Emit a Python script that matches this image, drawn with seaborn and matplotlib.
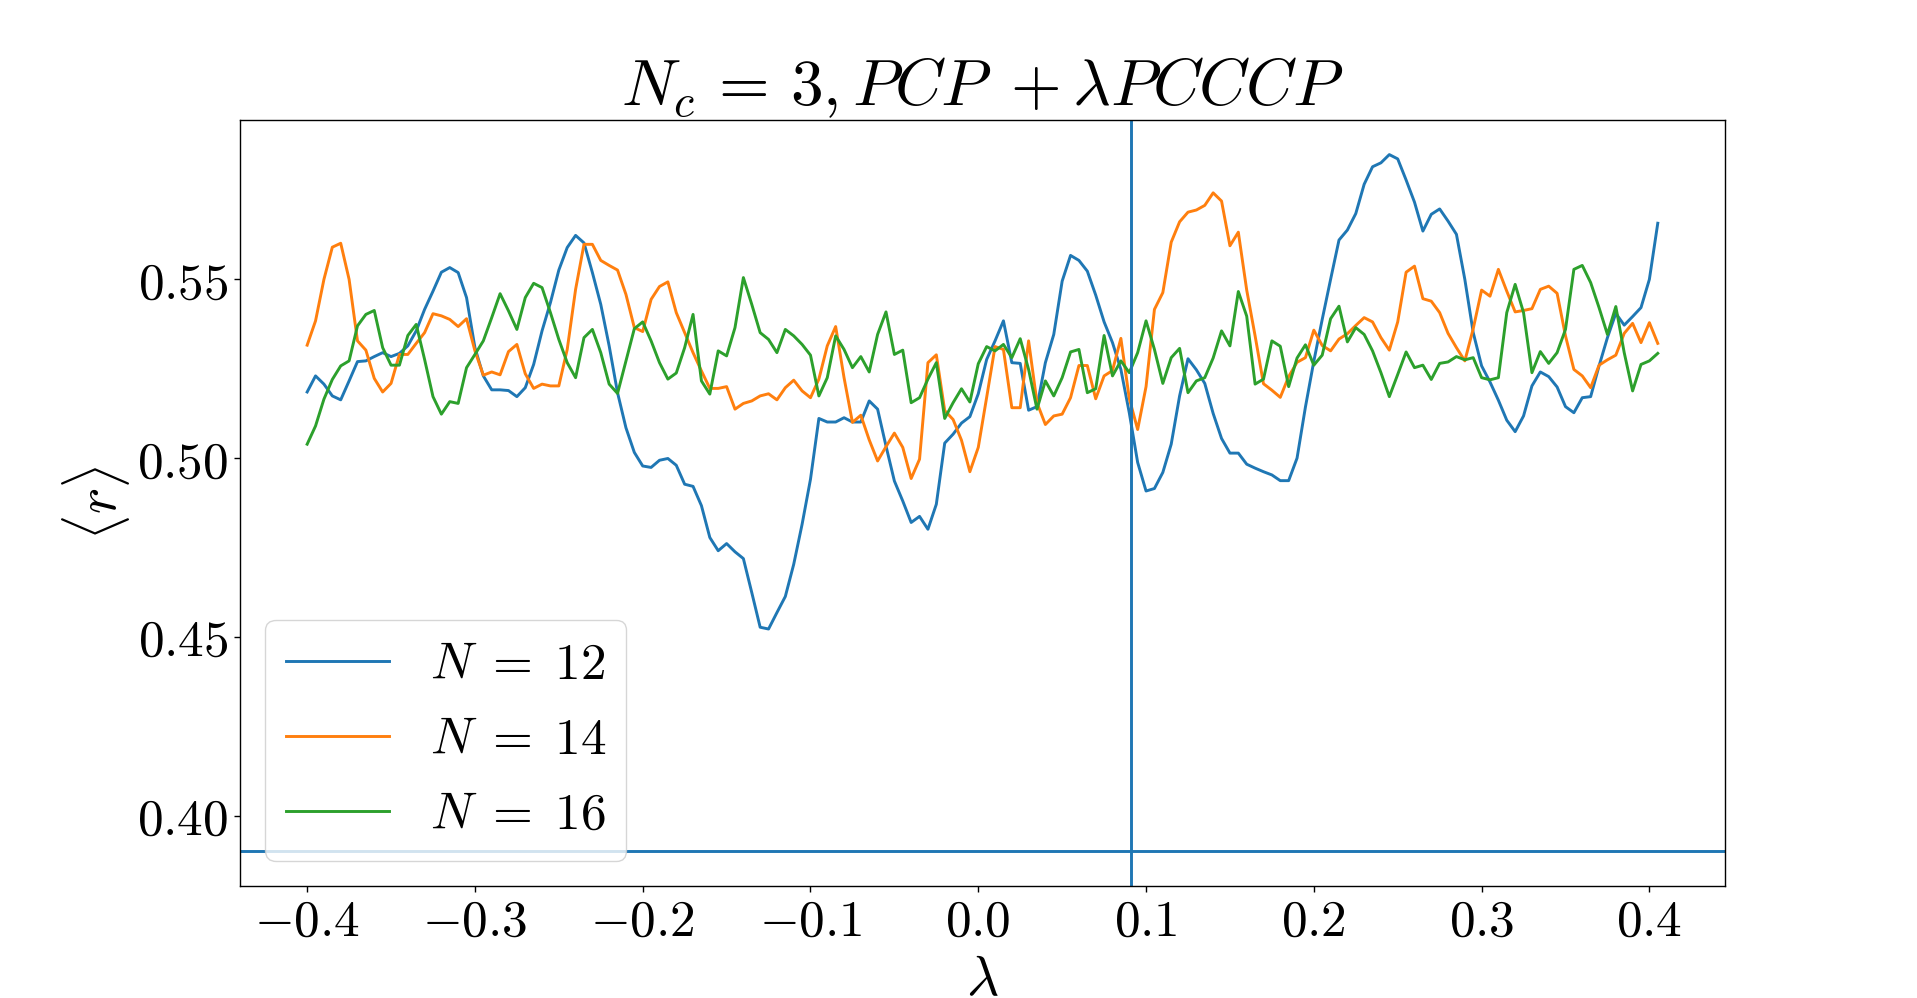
import numpy as np
import pandas as pd
import matplotlib
matplotlib.use("Agg")
import matplotlib.pyplot as plt
import seaborn as sns

# ---- data -------------------------------------------------------------
lam = np.round(np.linspace(-0.4, 0.405, 162), 3)

r_N12 = [
    0.5185, 0.5230, 0.5207, 0.5174, 0.5163, 0.5216, 0.5270, 0.5272, 0.5284, 0.5295,
    0.5284, 0.5293, 0.5314, 0.5356, 0.5416, 0.5467, 0.5520, 0.5533, 0.5519, 0.5449,
    0.5309, 0.5230, 0.5191, 0.5191, 0.5189, 0.5172, 0.5197, 0.5262, 0.5356, 0.5435,
    0.5526, 0.5589, 0.5623, 0.5602, 0.5519, 0.5430, 0.5314, 0.5183, 0.5085, 0.5016,
    0.4978, 0.4974, 0.4994, 0.4999, 0.4980, 0.4927, 0.4921, 0.4867, 0.4778, 0.4741,
    0.4761, 0.4738, 0.4719, 0.4624, 0.4527, 0.4522, 0.4568, 0.4613, 0.4703, 0.4815,
    0.4941, 0.5111, 0.5101, 0.5101, 0.5113, 0.5101, 0.5101, 0.5160, 0.5137, 0.5034,
    0.4936, 0.4880, 0.4820, 0.4837, 0.4801, 0.4871, 0.5042, 0.5067, 0.5098, 0.5116,
    0.5180, 0.5276, 0.5328, 0.5384, 0.5267, 0.5265, 0.5134, 0.5144, 0.5267, 0.5346,
    0.5495, 0.5567, 0.5553, 0.5523, 0.5456, 0.5381, 0.5323, 0.5248, 0.5127, 0.4988,
    0.4908, 0.4915, 0.4960, 0.5039, 0.5174, 0.5278, 0.5247, 0.5209, 0.5125, 0.5055,
    0.5014, 0.5014, 0.4983, 0.4972, 0.4962, 0.4953, 0.4937, 0.4937, 0.5000, 0.5143,
    0.5271, 0.5388, 0.5500, 0.5610, 0.5638, 0.5684, 0.5766, 0.5815, 0.5826, 0.5849,
    0.5837, 0.5778, 0.5716, 0.5635, 0.5682, 0.5697, 0.5663, 0.5626, 0.5500, 0.5351,
    0.5258, 0.5213, 0.5162, 0.5106, 0.5074, 0.5118, 0.5202, 0.5241, 0.5228, 0.5199,
    0.5144, 0.5127, 0.5169, 0.5172, 0.5258, 0.5337, 0.5405, 0.5372, 0.5396, 0.5421,
    0.5500, 0.5657,
]

r_N14 = [
    0.5316, 0.5384, 0.5500, 0.5590, 0.5601, 0.5500, 0.5328, 0.5302, 0.5223, 0.5185,
    0.5209, 0.5290, 0.5290, 0.5321, 0.5351, 0.5404, 0.5398, 0.5388, 0.5368, 0.5390,
    0.5300, 0.5232, 0.5241, 0.5233, 0.5298, 0.5318, 0.5236, 0.5195, 0.5207, 0.5202,
    0.5202, 0.5304, 0.5472, 0.5598, 0.5598, 0.5553, 0.5539, 0.5526, 0.5458, 0.5365,
    0.5354, 0.5444, 0.5480, 0.5493, 0.5407, 0.5351, 0.5295, 0.5244, 0.5195, 0.5195,
    0.5200, 0.5137, 0.5153, 0.5160, 0.5174, 0.5180, 0.5163, 0.5197, 0.5218, 0.5188,
    0.5169, 0.5221, 0.5314, 0.5368, 0.5225, 0.5100, 0.5120, 0.5051, 0.4992, 0.5032,
    0.5070, 0.5030, 0.4943, 0.4997, 0.5267, 0.5289, 0.5133, 0.5108, 0.5050, 0.4962,
    0.5030, 0.5170, 0.5312, 0.5304, 0.5141, 0.5141, 0.5328, 0.5155, 0.5094, 0.5118,
    0.5123, 0.5169, 0.5259, 0.5259, 0.5166, 0.5230, 0.5245, 0.5335, 0.5167, 0.5080,
    0.5200, 0.5416, 0.5463, 0.5604, 0.5661, 0.5688, 0.5694, 0.5707, 0.5742, 0.5719,
    0.5594, 0.5632, 0.5470, 0.5342, 0.5208, 0.5190, 0.5170, 0.5228, 0.5268, 0.5281,
    0.5358, 0.5315, 0.5300, 0.5333, 0.5348, 0.5371, 0.5393, 0.5381, 0.5337, 0.5302,
    0.5381, 0.5520, 0.5537, 0.5446, 0.5439, 0.5407, 0.5349, 0.5309, 0.5272, 0.5362,
    0.5470, 0.5453, 0.5528, 0.5467, 0.5409, 0.5413, 0.5418, 0.5472, 0.5481, 0.5461,
    0.5342, 0.5248, 0.5230, 0.5197, 0.5260, 0.5275, 0.5288, 0.5349, 0.5377, 0.5323,
    0.5379, 0.5321,
]

r_N16 = [
    0.5039, 0.5090, 0.5165, 0.5220, 0.5258, 0.5272, 0.5370, 0.5402, 0.5413, 0.5309,
    0.5260, 0.5260, 0.5343, 0.5374, 0.5276, 0.5172, 0.5123, 0.5158, 0.5153, 0.5253,
    0.5290, 0.5328, 0.5393, 0.5460, 0.5412, 0.5360, 0.5449, 0.5489, 0.5477, 0.5407,
    0.5332, 0.5267, 0.5225, 0.5337, 0.5360, 0.5295, 0.5207, 0.5181, 0.5272, 0.5362,
    0.5381, 0.5328, 0.5267, 0.5221, 0.5238, 0.5309, 0.5402, 0.5216, 0.5179, 0.5300,
    0.5286, 0.5365, 0.5505, 0.5430, 0.5351, 0.5332, 0.5295, 0.5360, 0.5342, 0.5318,
    0.5288, 0.5174, 0.5225, 0.5342, 0.5304, 0.5253, 0.5284, 0.5241, 0.5346, 0.5409,
    0.5290, 0.5302, 0.5155, 0.5169, 0.5221, 0.5267, 0.5111, 0.5155, 0.5194, 0.5157,
    0.5264, 0.5312, 0.5300, 0.5318, 0.5281, 0.5334, 0.5248, 0.5137, 0.5216, 0.5174,
    0.5225, 0.5297, 0.5304, 0.5183, 0.5194, 0.5343, 0.5230, 0.5272, 0.5239, 0.5295,
    0.5384, 0.5304, 0.5209, 0.5281, 0.5307, 0.5183, 0.5216, 0.5225, 0.5280, 0.5356,
    0.5314, 0.5466, 0.5397, 0.5207, 0.5221, 0.5328, 0.5313, 0.5200, 0.5280, 0.5317,
    0.5260, 0.5288, 0.5390, 0.5425, 0.5325, 0.5365, 0.5346, 0.5300, 0.5239, 0.5172,
    0.5234, 0.5297, 0.5253, 0.5260, 0.5220, 0.5265, 0.5269, 0.5284, 0.5275, 0.5281,
    0.5225, 0.5219, 0.5225, 0.5407, 0.5486, 0.5407, 0.5239, 0.5298, 0.5265, 0.5295,
    0.5360, 0.5528, 0.5539, 0.5491, 0.5421, 0.5346, 0.5424, 0.5295, 0.5188, 0.5262,
    0.5272, 0.5293,
]

series_labels = [r"$N \;=\; 12$", r"$N \;=\; 14$", r"$N \;=\; 16$"]
lambda_marker = 0.091
r_reference = 0.39

xtick_vals = [-0.4, -0.3, -0.2, -0.1, 0.0, 0.1, 0.2, 0.3, 0.4]
xtick_labels = [r"$-0.4$", r"$-0.3$", r"$-0.2$", r"$-0.1$", r"$0.0$",
                r"$0.1$", r"$0.2$", r"$0.3$", r"$0.4$"]
ytick_vals = [0.40, 0.45, 0.50, 0.55]
ytick_labels = [r"$0.40$", r"$0.45$", r"$0.50$", r"$0.55$"]

title_text = r"$N_c \,=\, 3, PCP\;+\lambda PCCCP$"
xlabel_text = r"$\lambda$"
ylabel_text = r"$\langle r \rangle$"

# ---- figure -------------------------------------------------------------
plt.rcParams["mathtext.fontset"] = "cm"
plt.rcParams["font.family"] = ["DejaVu Serif"]

df = pd.DataFrame({
    "lam": np.tile(lam, 3),
    "r": np.concatenate([r_N12, r_N14, r_N16]),
    "N": np.repeat(series_labels, len(lam)),
})

LW = 2.1

fig = plt.figure(figsize=(19.17, 9.98), dpi=100)
ax = fig.add_subplot(111)
fig.subplots_adjust(left=0.125, right=0.9, bottom=0.112, top=0.88)

palette = dict(zip(series_labels, ["#1f77b4", "#ff7f0e", "#2ca02c"]))
sns.lineplot(data=df, x="lam", y="r", hue="N", palette=palette,
             estimator=None, errorbar=None, linewidth=LW, ax=ax)

ax.axvline(lambda_marker, color="#1f77b4", linewidth=LW)
ax.axhline(r_reference, color="#1f77b4", linewidth=LW)

leg = ax.get_legend()
handles = leg.legend_handles
labels = [t.get_text() for t in leg.get_texts()]
leg.remove()
for h in handles:
    h.set_linewidth(LW)
ax.legend(handles, labels, loc="lower left", fontsize=37)

ax.set_xticks(xtick_vals)
ax.set_xticklabels(xtick_labels)
ax.set_yticks(ytick_vals)
ax.set_yticklabels(ytick_labels)
ax.tick_params(labelsize=37, length=4.5, width=1.0)
for sp in ax.spines.values():
    sp.set_linewidth(1.0)

ax.set_title(title_text, fontsize=47)
ax.set_xlabel(xlabel_text, fontsize=40)
ax.set_ylabel(ylabel_text, fontsize=40)

fig.savefig("out.png", dpi=100)
